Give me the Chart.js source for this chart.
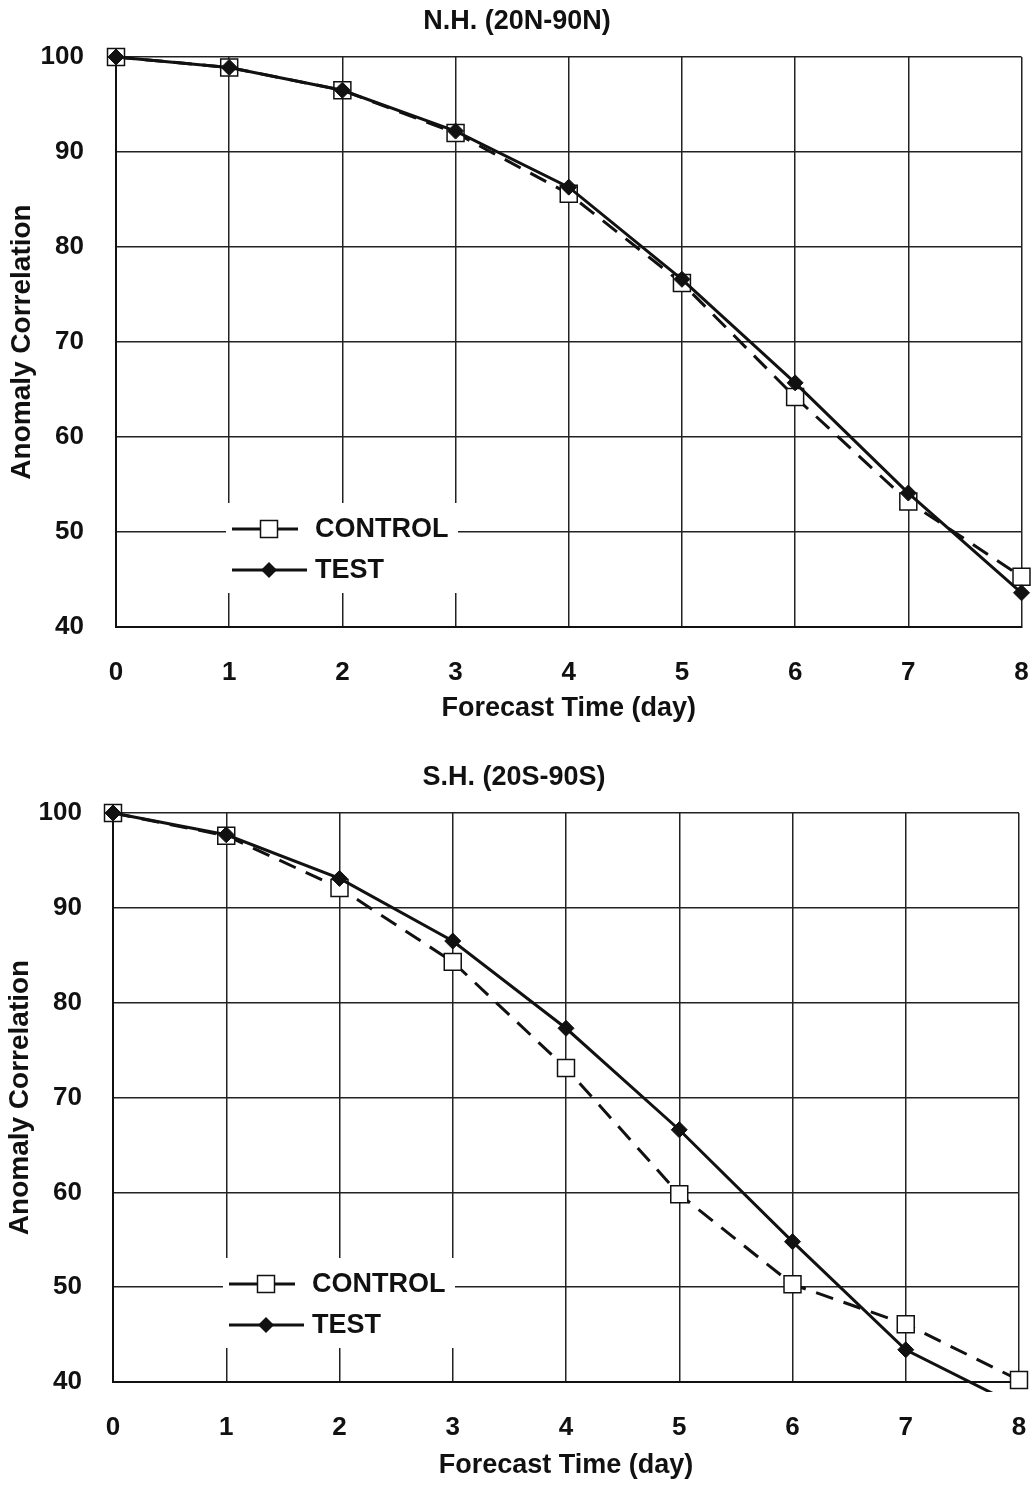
<!DOCTYPE html>
<html>
<head>
<meta charset="utf-8">
<script src="https://cdn.jsdelivr.net/npm/chart.js@4.4.1/dist/chart.umd.min.js"></script>
<style>
  html, body { margin: 0; padding: 0; background: #fff; }
  .panel { position: absolute; left: 0; width: 1035px; }
  #nh-wrap { top: 0; height: 745px; }
  #sh-wrap { top: 745px; height: 740px; }
</style>
</head>
<body>
<div class="panel" id="nh-wrap"><canvas id="nh-chart"></canvas></div>
<div class="panel" id="sh-wrap"><canvas id="sh-chart"></canvas></div>
<script>
// forecast days and anomaly correlation (%)
const DAYS = [0, 1, 2, 3, 4, 5, 6, 7, 8];
const Y_TICKS = [40, 50, 60, 70, 80, 90, 100];
const NH_CONTROL = [100, 98.9, 96.5, 92.0, 85.6, 76.2, 64.2, 53.2, 45.3];
const NH_TEST = [100, 98.9, 96.5, 92.2, 86.3, 76.6, 65.7, 54.1, 43.6];
const SH_CONTROL = [100, 97.6, 92.1, 84.3, 73.1, 59.8, 50.3, 46.1, 40.2];
const SH_TEST = [100, 97.7, 93.1, 86.5, 77.3, 66.6, 54.8, 43.4, 37.4];
const SERIES_NAMES = ['CONTROL', 'TEST'];

const FONT = '"Liberation Sans", Arial, Helvetica, sans-serif';
const INK = '#111';
const DASH = [18, 11];

// legend drawn inside the plot, lower left, on a white patch
const insideLegend = {
  id: 'insideLegend',
  afterDatasetsDraw(chart) {
    const { ctx, chartArea } = chart;
    const x0 = chartArea.left, y0 = chartArea.bottom;
    ctx.save();
    ctx.fillStyle = '#fff';
    ctx.fillRect(x0 + 110, y0 - 124, 232, 90);

    const mx = x0 + 153;
    ctx.strokeStyle = INK;
    ctx.lineWidth = 3;

    // CONTROL: short dash each side of an open square
    let y = y0 - 98;
    ctx.beginPath();
    ctx.moveTo(x0 + 116, y); ctx.lineTo(x0 + 146, y);
    ctx.moveTo(x0 + 160, y); ctx.lineTo(x0 + 182, y);
    ctx.stroke();
    ctx.fillStyle = '#fff';
    ctx.lineWidth = 1.5;
    ctx.fillRect(mx - 8.5, y - 8.5, 17, 17);
    ctx.strokeRect(mx - 8.5, y - 8.5, 17, 17);

    // TEST: solid line through a filled diamond
    y = y0 - 57;
    ctx.lineWidth = 3;
    ctx.beginPath();
    ctx.moveTo(x0 + 116, y); ctx.lineTo(x0 + 191, y);
    ctx.stroke();
    ctx.fillStyle = INK;
    ctx.beginPath();
    ctx.moveTo(mx - 8, y);
    ctx.lineTo(mx, y - 8);
    ctx.lineTo(mx + 8, y);
    ctx.lineTo(mx, y + 8);
    ctx.closePath();
    ctx.fill();

    ctx.font = 'bold 27px ' + FONT;
    ctx.textAlign = 'left';
    ctx.textBaseline = 'middle';
    ctx.fillText(SERIES_NAMES[0], x0 + 199, y0 - 97);
    ctx.fillText(SERIES_NAMES[1], x0 + 199, y0 - 56);
    ctx.restore();
  }
};

function makeChart(id, title, control, test, lay) {
  const ctx = document.getElementById(id).getContext('2d');
  return new Chart(ctx, {
    type: 'line',
    data: {
      datasets: [
        {
          label: SERIES_NAMES[0],
          data: DAYS.map((d, i) => ({ x: d, y: control[i] })),
          borderColor: INK,
          borderWidth: 3,
          borderDash: DASH,
          tension: 0,
          pointStyle: 'rect',
          pointRadius: 12,
          pointBackgroundColor: '#fff',
          pointBorderColor: INK,
          pointBorderWidth: 1.5,
          clip: lay.clipControl,
          order: 1,
        },
        {
          label: SERIES_NAMES[1],
          data: DAYS.map((d, i) => ({ x: d, y: test[i] })),
          borderColor: INK,
          borderWidth: 3,
          tension: 0,
          pointStyle: 'rectRot',
          pointRadius: 8,
          pointBackgroundColor: INK,
          pointBorderColor: INK,
          pointBorderWidth: 1,
          clip: lay.clipTest,
          order: 0,
        },
      ],
    },
    options: {
      responsive: true,
      maintainAspectRatio: false,
      animation: false,
      layout: { padding: { left: lay.padLeft, right: lay.padRight, top: 0, bottom: 0 } },
      plugins: {
        legend: { display: false },
        tooltip: { enabled: false },
        title: {
          display: true,
          text: title,
          color: INK,
          font: { family: FONT, size: 27, weight: 'bold', lineHeight: 1.2 },
          padding: lay.titlePad,
        },
      },
      scales: {
        x: {
          type: 'linear',
          min: DAYS[0],
          max: DAYS[DAYS.length - 1],
          afterFit: s => {
            s.height = lay.xHeight;
            s.paddingLeft = 0;
            s.paddingRight = 0;
          },
          grid: { color: '#222', lineWidth: 1.5, drawTicks: false },
          border: { display: true, color: INK, width: 2 },
          ticks: {
            stepSize: 1,
            autoSkip: false,
            padding: 30,
            color: INK,
            font: { family: FONT, size: 26, weight: 'bold' },
          },
          title: {
            display: true,
            text: 'Forecast Time (day)',
            color: INK,
            font: { family: FONT, size: 27, weight: 'bold', lineHeight: 1.2 },
            padding: { top: 0, bottom: lay.xTitlePad },
          },
        },
        y: {
          min: Y_TICKS[0],
          max: Y_TICKS[Y_TICKS.length - 1],
          afterFit: s => {
            s.width = lay.yWidth;
            s.paddingTop = 0;
            s.paddingBottom = 0;
          },
          grid: { color: '#222', lineWidth: 1.5, drawTicks: false },
          border: { display: true, color: INK, width: 2 },
          ticks: {
            stepSize: 10,
            padding: lay.yTickPad,
            color: INK,
            font: { family: FONT, size: 26, weight: 'bold' },
          },
          title: {
            display: true,
            text: 'Anomaly Correlation',
            color: INK,
            font: { family: FONT, size: 28, weight: 'bold', lineHeight: 1.2 },
            padding: { top: lay.yTitlePad, bottom: 0 },
          },
        },
      },
    },
    plugins: [insideLegend],
  });
}

makeChart('nh-chart', 'N.H. (20N-90N)', NH_CONTROL, NH_TEST, {
  padLeft: 10,
  padRight: 11,
  yWidth: 106,
  xHeight: 118,
  xTitlePad: 19.8,
  yTickPad: 32,
  yTitlePad: -4.8,
  titlePad: { top: 5.8, bottom: 18.8 },
  clipControl: { left: 20, right: 20, top: 20, bottom: 20 },
  clipTest: { left: 20, right: 20, top: 20, bottom: 20 },
});

makeChart('sh-chart', 'S.H. (20S-90S)', SH_CONTROL, SH_TEST, {
  padLeft: 9,
  padRight: 16,
  yWidth: 104,
  xHeight: 103,
  xTitlePad: 2.8,
  yTickPad: 31,
  yTitlePad: -5.8,
  titlePad: { top: 16.8, bottom: 18.8 },
  clipControl: { left: 20, right: 20, top: 20, bottom: 14 },
  clipTest: { left: 20, right: 20, top: 20, bottom: 10 },
});
</script>
</body>
</html>
